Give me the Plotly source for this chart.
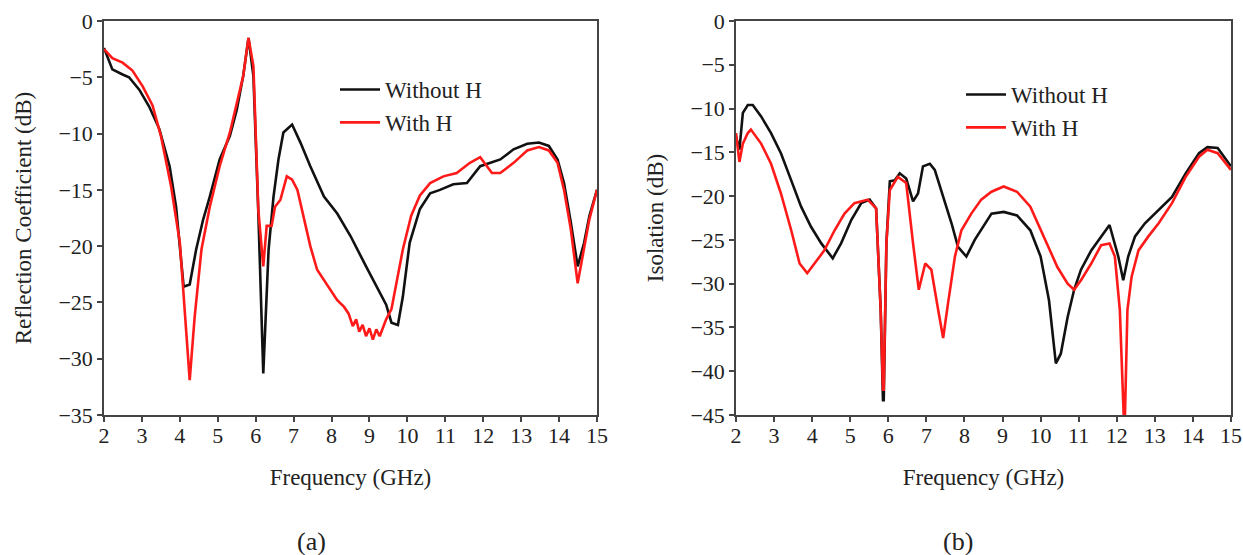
import plotly.graph_objects as go

# ---------------- (a) Reflection coefficient ----------------
refl_without_f = [2.0, 2.22, 2.49, 2.66, 2.93, 3.19, 3.46, 3.73, 3.9, 4.1, 4.26, 4.43, 4.61, 4.79, 5.05,
                  5.32, 5.5, 5.67, 5.81, 5.94, 6.07, 6.2, 6.34, 6.47, 6.6, 6.73, 6.96, 7.18, 7.44, 7.8,
                  8.15, 8.5, 8.91, 9.18, 9.44, 9.58, 9.75, 9.88, 10.06, 10.33, 10.6, 10.86, 11.21,
                  11.57, 11.92, 12.19, 12.45, 12.8, 13.16, 13.47, 13.73, 13.96, 14.13, 14.31, 14.49,
                  14.66, 14.8, 15.0]
refl_without_db = [-2.4, -4.3, -4.75, -5.0, -6.1, -7.6, -9.6, -12.9, -16.5, -23.6, -23.4, -20.3, -17.7,
                   -15.6, -12.3, -10.2, -7.9, -4.9, -1.5, -4.9, -17.1, -31.3, -20.3, -15.6, -12.3, -9.9,
                   -9.2, -10.8, -12.9, -15.6, -17.1, -19.1, -21.8, -23.6, -25.2, -26.8, -27.0, -24.5,
                   -19.7, -16.7, -15.3, -15.0, -14.5, -14.4, -12.9, -12.6, -12.3, -11.4, -10.9, -10.8,
                   -11.1, -12.3, -14.4, -17.9, -21.8, -19.7, -17.3, -15.0]

refl_with_f = [2.0, 2.22, 2.49, 2.75, 3.02, 3.28, 3.5, 3.77, 4.0, 4.12, 4.26, 4.39, 4.57, 4.79, 5.05,
               5.32, 5.54, 5.67, 5.81, 5.94, 6.07, 6.2, 6.29, 6.42, 6.51, 6.65, 6.82, 6.96, 7.1, 7.27,
               7.44, 7.62, 7.8, 7.97, 8.15, 8.33, 8.45, 8.56, 8.65, 8.73, 8.82, 8.91, 9.0, 9.09, 9.18,
               9.27, 9.36, 9.44, 9.58, 9.71, 9.88, 10.1, 10.33, 10.6, 10.95, 11.3, 11.65, 11.92,
               12.23, 12.45, 12.8, 13.16, 13.47, 13.73, 13.96, 14.13, 14.31, 14.49, 14.66, 14.8, 15.0]
refl_with_db = [-2.5, -3.3, -3.7, -4.4, -5.8, -7.5, -10.2, -14.7, -19.7, -25.7, -31.9, -26.3, -20.3,
                -16.5, -12.9, -9.9, -6.7, -4.9, -1.5, -4.0, -16.8, -21.8, -18.2, -18.2, -16.5, -15.9,
                -13.8, -14.1, -15.0, -17.4, -20.0, -22.1, -23.0, -23.9, -24.8, -25.4, -26.0, -27.1,
                -26.5, -27.6, -27.0, -28.0, -27.3, -28.3, -27.4, -28.0, -27.2, -26.5, -25.6, -23.3,
                -20.3, -17.3, -15.5, -14.4, -13.8, -13.5, -12.6, -12.1, -13.5, -13.5, -12.6, -11.5,
                -11.2, -11.5, -12.6, -15.0, -18.5, -23.3, -20.3, -17.6, -15.0]

# ---------------- (b) Isolation ----------------
iso_without_f = [2.0, 2.09, 2.18, 2.31, 2.44, 2.66, 2.92, 3.18, 3.45, 3.71, 3.97, 4.24, 4.54, 4.76,
                 5.03, 5.29, 5.51, 5.68, 5.8, 5.86, 5.88, 5.95, 6.04, 6.17, 6.3, 6.47, 6.65, 6.78, 6.91,
                 7.09, 7.22, 7.44, 7.66, 7.83, 8.05, 8.27, 8.54, 8.71, 9.03, 9.38, 9.73, 10.0, 10.22,
                 10.4, 10.53, 10.71, 10.88, 11.06, 11.33, 11.59, 11.81, 12.04, 12.17, 12.3, 12.48,
                 12.74, 13.1, 13.45, 13.81, 14.16, 14.38, 14.65, 15.0]
iso_without_db = [-13.2, -14.7, -10.5, -9.6, -9.6, -10.9, -12.8, -15.1, -18.2, -21.2, -23.5, -25.4,
                  -27.1, -25.4, -22.7, -20.8, -20.4, -21.4, -33.0, -43.3, -43.3, -25.4, -18.3, -18.2,
                  -17.4, -18.0, -20.6, -19.7, -16.6, -16.3, -17.0, -20.1, -23.1, -25.8, -26.9, -25.0,
                  -23.1, -22.0, -21.8, -22.2, -23.9, -26.9, -31.9, -39.1, -38.0, -33.8, -30.7, -28.4,
                  -26.2, -24.6, -23.3, -26.9, -29.6, -26.9, -24.6, -23.1, -21.6, -20.1, -17.4, -15.1,
                  -14.4, -14.5, -16.6]

iso_with_f = [2.0, 2.09, 2.18, 2.31, 2.39, 2.66, 2.92, 3.18, 3.45, 3.67, 3.87, 4.06, 4.32, 4.59, 4.85,
              5.11, 5.46, 5.68, 5.8, 5.86, 5.88, 5.95, 6.04, 6.25, 6.47, 6.65, 6.8, 6.97, 7.13, 7.31,
              7.44, 7.57, 7.75, 7.92, 8.18, 8.44, 8.71, 9.03, 9.38, 9.73, 10.09, 10.44, 10.71, 10.88,
              11.06, 11.33, 11.59, 11.81, 11.95, 12.08, 12.19, 12.21, 12.28, 12.39, 12.57, 12.83,
              13.1, 13.45, 13.81, 14.16, 14.38, 14.65, 15.0]
iso_with_db = [-12.8, -16.1, -14.0, -12.8, -12.4, -14.0, -16.3, -19.7, -23.9, -27.7, -28.8, -27.7,
               -26.2, -23.9, -22.0, -20.8, -20.4, -21.4, -33.0, -42.1, -42.1, -25.4, -19.3, -17.8,
               -18.5, -25.4, -30.7, -27.7, -28.4, -33.0, -36.2, -32.2, -26.9, -23.9, -22.0, -20.4,
               -19.5, -18.9, -19.5, -21.2, -24.6, -28.1, -30.0, -30.7, -29.6, -27.7, -25.6, -25.4,
               -26.9, -33.0, -46.0, -46.0, -33.0, -29.2, -26.2, -24.6, -23.1, -20.8, -17.8, -15.5,
               -14.7, -15.1, -17.0]

x_ticks = list(range(2, 16))
refl_ticks = list(range(0, -36, -5))
iso_ticks = list(range(0, -46, -5))

FONT = "Liberation Serif"
TXT = "#222222"
BLACK = "#111111"
RED = "#ff1a1a"

W, H = 1243, 555


def xp(px):
    return px / W


def yp(py):
    return 1 - py / H


fig = go.Figure()
fig.add_trace(go.Scatter(x=refl_without_f, y=refl_without_db, mode="lines", name="Without H",
                         line=dict(color=BLACK, width=2.6), xaxis="x", yaxis="y", legend="legend"))
fig.add_trace(go.Scatter(x=refl_with_f, y=refl_with_db, mode="lines", name="With H",
                         line=dict(color=RED, width=2.6), xaxis="x", yaxis="y", legend="legend"))
fig.add_trace(go.Scatter(x=iso_without_f, y=iso_without_db, mode="lines", name="Without H",
                         line=dict(color=BLACK, width=2.6), xaxis="x2", yaxis="y2", legend="legend2"))
fig.add_trace(go.Scatter(x=iso_with_f, y=iso_with_db, mode="lines", name="With H",
                         line=dict(color=RED, width=2.6), xaxis="x2", yaxis="y2", legend="legend2"))

ydom = [yp(415), yp(21)]
axis_common = dict(showline=True, linecolor="#444444", linewidth=1.5, mirror=True, ticks="outside",
                   ticklen=5, tickwidth=1.5, tickcolor="#444444", showgrid=False, zeroline=False,
                   automargin=False, tickfont=dict(family=FONT, size=22, color=TXT))
title_font = dict(family=FONT, size=23, color=TXT)
legend_font = dict(family=FONT, size=23, color=TXT)

fig.update_layout(
    width=W, height=H, plot_bgcolor="white", paper_bgcolor="white",
    margin=dict(l=0, r=0, t=0, b=0, autoexpand=False),
    xaxis=dict(domain=[xp(104), xp(597)], range=[2, 15], tickvals=x_ticks, anchor="y",
               ticklabelstandoff=-5,
               title=dict(text="Frequency (GHz)", font=title_font, standoff=22), **axis_common),
    yaxis=dict(domain=ydom, range=[-35, 0], tickvals=refl_ticks, anchor="x",
               title=dict(text="Reflection Coefficient (dB)", font=title_font, standoff=20),
               **axis_common),
    xaxis2=dict(domain=[xp(736), xp(1231)], range=[2, 15], tickvals=x_ticks, anchor="y2",
                ticklabelstandoff=-5,
                title=dict(text="Frequency (GHz)", font=title_font, standoff=22), **axis_common),
    yaxis2=dict(domain=ydom, range=[-45, 0], tickvals=iso_ticks, anchor="x2",
                title=dict(text="Isolation (dB)", font=title_font, standoff=20), **axis_common),
    legend=dict(x=xp(335), y=yp(68), xanchor="left", yanchor="top", bgcolor="rgba(0,0,0,0)",
                font=legend_font, tracegroupgap=0, itemwidth=40),
    legend2=dict(x=xp(961), y=yp(73), xanchor="left", yanchor="top", bgcolor="rgba(0,0,0,0)",
                 font=legend_font, tracegroupgap=0, itemwidth=40),
    annotations=[
        dict(text="(a)", x=xp(295), y=yp(541), xref="paper", yref="paper", showarrow=False,
             yanchor="middle", font=dict(family=FONT, size=26, color=TXT)),
        dict(text="(b)", x=xp(975), y=yp(541), xref="paper", yref="paper", showarrow=False,
             yanchor="middle", font=dict(family=FONT, size=26, color=TXT)),
    ],
)

# the page's default 8px body margin would shift the figure; remove it so the figure fills the window
fig.write_html("out.html", config={"displayModeBar": False},
               post_script="document.body.style.margin='0';document.body.style.overflow='hidden';")
